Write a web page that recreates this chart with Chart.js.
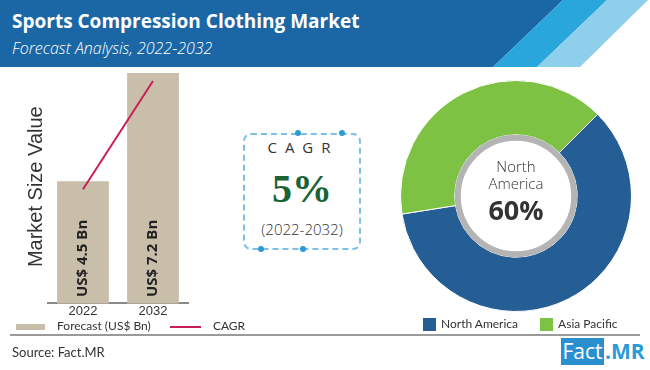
<!DOCTYPE html>
<html>
<head>
<meta charset="utf-8">
<script src="https://cdn.jsdelivr.net/npm/chart.js@4.4.1/dist/chart.umd.min.js"></script>
<style>
    body { margin: 0; width: 650px; height: 370px; position: relative; overflow: hidden; background: #fff; font-family: 'Open Sans', sans-serif; color: #333; }
    .abs { position: absolute; }
    #title { left: 12px; top: 8px; color: #fff; font-weight: 700; font-size: 19px; white-space: nowrap; }
    #subtitle { left: 12px; top: 37px; color: #fff; font-style: italic; font-weight: 300; font-size: 16px; white-space: nowrap; }
    #cagr-box { left: 243px; top: 133px; width: 114px; height: 113px; border: 2px dashed #7cc0e4; border-radius: 8px; }
    .dot { width: 6px; height: 6px; border-radius: 50%; background: #2a9bd6; }
    #cagr-label { left: 240px; top: 137px; width: 118px; text-align: center; font-size: 15px; letter-spacing: 8px; text-indent: 8px; }
    #cagr-value { left: 243px; top: 165px; width: 118px; text-align: center; font-family: 'Liberation Serif', serif; font-weight: 700; font-size: 40px; color: #1a6334; }
    #cagr-years { left: 243px; top: 219px; width: 118px; text-align: center; font-size: 15px; font-weight: 300; }
    .legend { font-family: Lato, sans-serif; font-size: 12px; white-space: nowrap; }
    .sw { display: inline-block; vertical-align: middle; }
    #rule { left: 10px; top: 334px; width: 630px; height: 2px; background: #9a9a9a; }
    #source { left: 12px; top: 344px; font-size: 13px; font-family: Lato, sans-serif; }
    #logo-box { left: 561px; top: 338px; width: 43px; height: 27px; background: #2a8fcf; color: #fff; font-size: 21px; line-height: 27px; text-align: center; }
    #logo-mr { left: 605px; top: 338px; color: #2a9bd6; font-size: 21px; line-height: 27px; font-weight: 700; }
</style>
</head>
<body>
<svg class="abs" style="left:0;top:0" width="650" height="67">
    <polygon points="0,0 563,0 493,67 0,67" fill="#1b67a6"/>
    <polygon points="563,0 607,0 537,67 493,67" fill="#29a6db"/>
    <polygon points="607,0 648,0 580,67 537,67" fill="#8ed0ec"/>
</svg>
<div id="title" class="abs">Sports Compression Clothing Market</div>
<div id="subtitle" class="abs">Forecast Analysis, 2022-2032</div>

<canvas id="bar-chart" class="abs" style="left:0;top:65px" width="230" height="254"></canvas>
<div class="abs legend" style="left:16px;top:318px">
    <span class="sw" style="width:29px;height:6px;background:#c9bea9"></span>
    <span style="margin-left:9px">Forecast (US$ Bn)</span>
    <span class="sw" style="width:31px;height:2px;background:#c81d5b;margin-left:16px"></span>
    <span style="margin-left:9px">CAGR</span>
</div>

<div id="cagr-box" class="abs"></div>
<div class="abs dot" style="left:295px;top:130px"></div>
<div class="abs dot" style="left:339px;top:130px"></div>
<div class="abs dot" style="left:258px;top:246px"></div>
<div class="abs dot" style="left:300px;top:246px"></div>
<div id="cagr-label" class="abs">CAGR</div>
<div id="cagr-value" class="abs">5%</div>
<div id="cagr-years" class="abs">(2022-2032)</div>

<canvas id="donut-chart" class="abs" style="left:390px;top:70px" width="252" height="252"></canvas>
<div id="donut-legend" class="abs legend" style="left:423px;top:316px"></div>

<div id="rule" class="abs"></div>
<div id="source" class="abs">Source: Fact.MR</div>
<div id="logo-box" class="abs">Fact</div>
<div id="logo-mr" class="abs">.MR</div>

<script>
    // values
    var years = ['2022', '2032'];
    var marketSize = [4.5, 7.2];
    var cagrLine = [4.3, 7.0];
    var regions = ['North America', 'Asia Pacific'];
    var regionShare = [60, 40];
    var regionColors = ['#245e95', '#7dc242'];

    // bar value labels, rotated, near the bottom of each bar
    var barLabelPlugin = {
        id: 'barLabels',
        afterDatasetsDraw: function (chart) {
            var ctx = chart.ctx;
            var meta = chart.getDatasetMeta(1);
            meta.data.forEach(function (bar, i) {
                ctx.save();
                ctx.translate(bar.x, chart.chartArea.bottom - 45);
                ctx.rotate(-Math.PI / 2);
                ctx.font = "700 15px 'Open Sans', sans-serif";
                ctx.fillStyle = '#222';
                ctx.textAlign = 'center';
                ctx.textBaseline = 'middle';
                ctx.fillText('US$ ' + marketSize[i] + ' Bn', 0, 0);
                ctx.restore();
            });
        }
    };

    new Chart(document.getElementById('bar-chart'), {
        type: 'bar',
        data: {
            labels: years,
            datasets: [
                {
                    type: 'line',
                    label: 'CAGR',
                    data: cagrLine,
                    borderColor: '#c81d5b',
                    borderWidth: 2,
                    pointRadius: 0,
                    order: 1
                },
                {
                    label: 'Forecast (US$ Bn)',
                    data: marketSize,
                    backgroundColor: '#c9bea9',
                    categoryPercentage: 1,
                    barPercentage: 0.74,
                    order: 2
                }
            ]
        },
        options: {
            responsive: false,
            animation: false,
            layout: { padding: { top: 5, right: 42, left: 24, bottom: 0 } },
            plugins: { legend: { display: false }, tooltip: { enabled: false } },
            scales: {
                x: {
                    grid: { display: false, drawTicks: false },
                    border: { color: '#8a8a8a', width: 2 },
                    ticks: { color: '#333', font: { size: 13 }, padding: 0 }
                },
                y: {
                    min: 1.45,
                    max: 7.275,
                    grid: { display: false, drawTicks: false },
                    border: { display: false },
                    ticks: { display: false },
                    title: {
                        display: true,
                        text: 'Market Size Value',
                        color: '#333',
                        font: { size: 20, weight: '300' },
                        padding: 0
                    }
                }
            }
        },
        plugins: [barLabelPlugin]
    });

    // gray ring and text in the middle of the doughnut
    var centerPlugin = {
        id: 'centerText',
        afterDraw: function (chart) {
            var arc = chart.getDatasetMeta(0).data[0];
            var ctx = chart.ctx;
            var r = arc.innerRadius;
            ctx.save();
            ctx.beginPath();
            ctx.arc(arc.x, arc.y, r - 3, 0, Math.PI * 2);
            ctx.fillStyle = '#fff';
            ctx.fill();
            ctx.lineWidth = 6;
            ctx.strokeStyle = '#b4b4b4';
            ctx.stroke();
            ctx.fillStyle = '#333';
            ctx.textAlign = 'center';
            ctx.textBaseline = 'middle';
            ctx.font = "300 15px 'Open Sans', sans-serif";
            ctx.fillText('North', arc.x, arc.y - 28);
            ctx.fillText('America', arc.x, arc.y - 11);
            ctx.font = "700 27px 'Open Sans', sans-serif";
            ctx.fillText(regionShare[0] + '%', arc.x, arc.y + 16);
            ctx.restore();
        }
    };

    new Chart(document.getElementById('donut-chart'), {
        type: 'doughnut',
        data: {
            labels: regions,
            datasets: [{
                data: regionShare,
                backgroundColor: regionColors,
                borderColor: '#fff',
                borderWidth: 1
            }]
        },
        options: {
            responsive: false,
            animation: false,
            rotation: 45,
            cutout: '53%',
            layout: { padding: 10 },
            plugins: { legend: { display: false }, tooltip: { enabled: false } }
        },
        plugins: [centerPlugin]
    });

    var leg = document.getElementById('donut-legend');
    leg.innerHTML = regions.map(function (name, i) {
        return '<span class="sw" style="width:13px;height:13px;background:' + regionColors[i] + '"></span>' +
            '<span style="margin-left:5px;margin-right:' + (i === 0 ? 22 : 0) + 'px">' + name + '</span>';
    }).join('');
</script>
</body>
</html>
